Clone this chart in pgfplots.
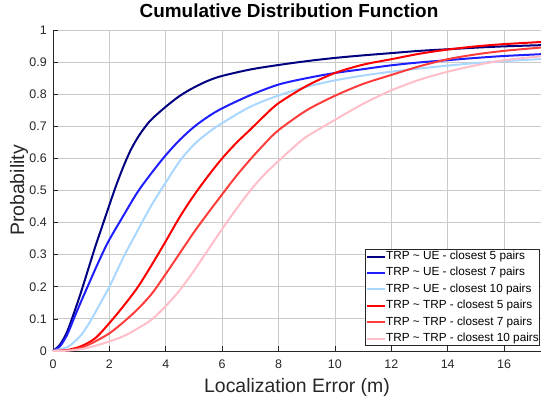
\documentclass[border=0pt]{standalone}
\usepackage{fontspec}
\setmainfont{Liberation Sans}
\usepackage{pgfplots}
\pgfplotsset{compat=1.18}

\definecolor{navyc}{RGB}{0,0,128}
\definecolor{bluec}{RGB}{30,30,255}
\definecolor{lbluec}{RGB}{170,215,255}
\definecolor{redc}{RGB}{255,0,0}
\definecolor{mredc}{RGB}{255,60,60}
\definecolor{pinkc}{RGB}{255,190,200}
\definecolor{axc}{RGB}{38,38,38}
\definecolor{gridc}{RGB}{202,202,202}

\pgfplotsset{cdf/.style={line width=2bp, smooth}}

\begin{document}
\begin{tikzpicture}
\begin{axis}[
    at={(0,0)}, anchor=south west,
    scale only axis,
    width=488bp, height=321bp,
    xmin=0, xmax=17.31, ymin=0, ymax=1,
    axis x line*=bottom, axis y line*=left,
    axis line style={axc, line width=0.6bp, -},
    xtick={0,2,4,6,8,10,12,14,16},
    ytick={0,0.1,0.2,0.3,0.4,0.5,0.6,0.7,0.8,0.9,1},
    tick align=inside,
    major tick length=5bp,
    tick style={axc, line width=0.6bp},
    grid=major,
    grid style={gridc, line width=0.8bp},
    /pgf/number format/assume math mode=true,
    tick label style={font=\fontsize{12.5}{14}\selectfont, text=axc},
    yticklabel style={inner sep=0pt, anchor=east, xshift=-6bp},
    xticklabel style={inner sep=0pt, anchor=north, yshift=-9bp},
    xlabel={Localization Error (m)},
    ylabel={Probability},
    label style={font=\fontsize{19.5}{22}\selectfont, text=axc, inner sep=0pt},
    xlabel style={at={(axis description cs:0.5,-0.128)}, anchor=base},
    ylabel style={at={(axis description cs:-0.0594,0.5)}, anchor=base},
    title={Cumulative Distribution Function},
    title style={at={(axis description cs:0.4836,1)}, anchor=base, yshift=6.7bp,
                 font=\bfseries\fontsize{19}{22}\selectfont, inner sep=0pt},
    legend cell align=left,
    legend image code/.code={\draw[#1, line width=2bp] (0bp,0bp) -- (18bp,0bp);},
    legend style={at={(axis description cs:0.998,0.016)}, anchor=south east,
                  draw=axc, line width=0.6bp, fill=white,
                  font=\fontsize{11.8}{13}\selectfont,
                  inner xsep=1bp, inner ysep=1.5bp, row sep=5.4bp,
                  nodes={inner sep=0pt, text height=8.5bp, text depth=2.5bp}},
]
\addplot[navyc, cdf] coordinates {
 (0,0) (0.25,0.02) (0.5,0.06) (0.75,0.12) (1,0.185) (1.25,0.255) (1.5,0.325)
 (1.75,0.39) (2,0.455) (2.25,0.518) (2.5,0.575) (2.75,0.625) (3,0.664)
 (3.25,0.696) (3.5,0.722) (4,0.761) (4.5,0.795) (5,0.821) (5.5,0.842) (6,0.857)
 (7,0.877) (8,0.891) (9,0.903) (10,0.913) (11,0.921) (12,0.928) (13,0.935)
 (14,0.94) (15,0.945) (16,0.949) (17.4,0.953)};
\addlegendentry{TRP \textasciitilde\ UE - closest 5 pairs}
\addplot[bluec, cdf] coordinates {
 (0,0) (0.25,0.015) (0.5,0.05) (0.75,0.103) (1,0.155) (1.25,0.205) (1.5,0.255)
 (1.75,0.303) (2,0.347) (2.5,0.422) (3,0.495) (3.5,0.555) (4,0.61) (4.5,0.658)
 (5,0.698) (5.5,0.73) (6,0.756) (7,0.797) (8,0.83) (9,0.85) (10,0.866)
 (11,0.878) (12,0.89) (13,0.899) (14,0.906) (15,0.913) (16,0.919) (17.4,0.925)};
\addlegendentry{TRP \textasciitilde\ UE - closest 7 pairs}
\addplot[lbluec, cdf] coordinates {
 (0,0) (0.5,0.012) (0.75,0.028) (1,0.05) (1.25,0.082) (1.5,0.12) (1.75,0.16)
 (2,0.2) (2.5,0.292) (3,0.375) (3.5,0.455) (4,0.525) (4.5,0.592) (5,0.643)
 (5.5,0.68) (6,0.71) (7,0.761) (8,0.796) (9,0.823) (10,0.843) (11,0.858)
 (12,0.87) (13,0.88) (14,0.889) (15,0.897) (16,0.903) (17.4,0.91)};
\addlegendentry{TRP \textasciitilde\ UE - closest 10 pairs}
\addplot[redc, cdf] coordinates {
 (0,0) (0.5,0.003) (1,0.015) (1.5,0.04) (2,0.087) (2.5,0.14) (3,0.198)
 (3.5,0.268) (4,0.342) (4.5,0.418) (5,0.485) (5.5,0.545) (6,0.6) (6.5,0.648)
 (7,0.69) (7.5,0.733) (8,0.772) (9,0.826) (10,0.866) (11,0.892) (12,0.909)
 (13,0.926) (14,0.939) (15,0.949) (16,0.956) (17.4,0.963)};
\addlegendentry{TRP \textasciitilde\ TRP - closest 5 pairs}
\addplot[mredc, cdf] coordinates {
 (0,0) (0.5,0.002) (1,0.01) (1.5,0.03) (2,0.055) (2.5,0.09) (3,0.13)
 (3.5,0.178) (4,0.24) (4.5,0.305) (5,0.37) (5.5,0.43) (6,0.488) (6.5,0.545)
 (7,0.597) (7.5,0.645) (8,0.688) (9,0.75) (10,0.795) (11,0.832) (12,0.86)
 (13,0.887) (14,0.909) (15,0.924) (16,0.935) (17.4,0.946)};
\addlegendentry{TRP \textasciitilde\ TRP - closest 7 pairs}
\addplot[pinkc, cdf] coordinates {
 (0,0) (0.5,0.001) (1,0.006) (1.5,0.016) (2,0.03) (2.5,0.046) (3,0.07)
 (3.5,0.098) (4,0.14) (4.5,0.19) (5,0.25) (5.5,0.315) (6,0.38) (6.5,0.442)
 (7,0.5) (7.5,0.55) (8,0.592) (8.5,0.632) (9,0.668) (10,0.72) (11,0.77)
 (12,0.812) (13,0.845) (14,0.87) (15,0.89) (16,0.906) (17.4,0.919)};
\addlegendentry{TRP \textasciitilde\ TRP - closest 10 pairs}
\end{axis}
\pgfresetboundingbox
\path[use as bounding box] ([xshift=-53bp,yshift=-51bp]current axis.south west)
  rectangle ([yshift=30bp]current axis.north east);
\end{tikzpicture}
\end{document}
